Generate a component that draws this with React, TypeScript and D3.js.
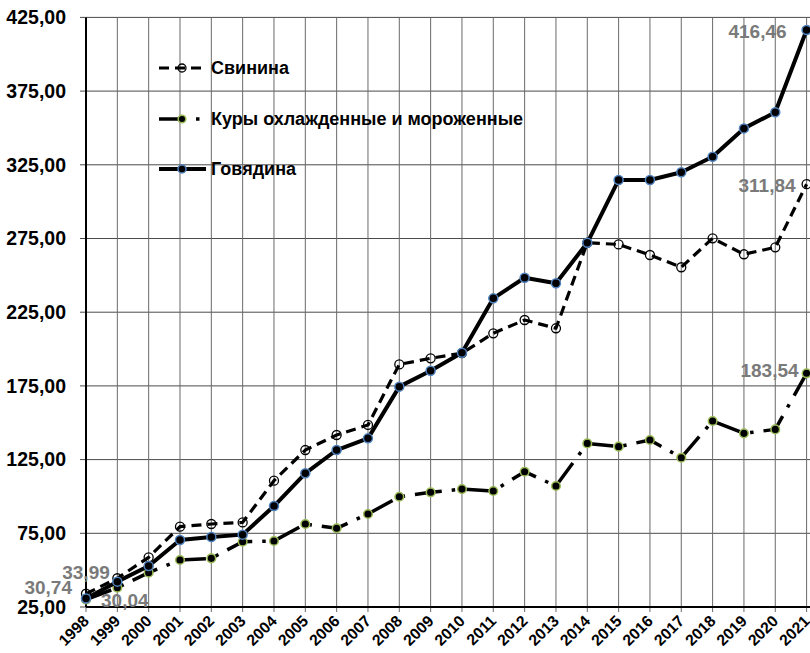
import React from "react";
import * as d3 from "d3";

const years = ["1998","1999","2000","2001","2002","2003","2004","2005","2006","2007","2008","2009","2010","2011","2012","2013","2014","2015","2016","2017","2018","2019","2020","2021"];
const pork = [33.99,44.5,58.7,79.5,81.3,82.4,110.7,131.5,141.7,148.5,189.6,193.7,197.2,210.7,219.7,214.1,272.1,271.0,263.8,255.5,275.1,264.3,269.0,311.84];
const chicken = [30.04,38.1,48.3,56.9,58.0,69.3,69.8,81.3,78.4,88.1,99.8,102.8,105.0,103.7,116.8,107.1,136.0,133.8,138.3,126.3,151.2,142.8,145.5,183.54];
const beef = [30.74,42.2,52.8,70.5,72.5,74.1,93.5,115.7,131.5,139.4,174.5,185.3,197.5,234.4,248.4,244.6,272.1,314.7,314.7,319.9,330.5,349.7,360.6,416.46];
const yTicks = [25,75,125,175,225,275,325,375,425];
const seriesNames = ["Свинина","Куры охлажденные и мороженные","Говядина"];

const W = 810, H = 653;
const FONT = "'Liberation Sans', Arial, sans-serif";
const fmt = (v: number) => d3.format(".2f")(v).replace(".", ",");

export default function App() {
  const x = d3.scalePoint<string>().domain(years).range([86, 806.6]);
  const y = d3.scaleLinear().domain([25, 425]).range([607, 17.4]);
  const line = d3.line<number>().x((_, i) => x(years[i])!).y(d => y(d));

  const styles = [
    { data: pork, width: 3.2, dash: "10,6", mFill: "none", mStroke: "#000", mW: 1.3, r: 4.5 },
    { data: chicken, width: 3.5, dash: "27,10,3.5,10", mFill: "#000", mStroke: "#9bbb59", mW: 1.5, r: 4.3 },
    { data: beef, width: 4, dash: null as string | null, mFill: "#000", mStroke: "#4f81bd", mW: 1.5, r: 4.5 },
  ];

  // label offsets relative to points: [seriesIdx, pointIdx, dx, dy, anchor]
  const labels: [number, number, number, number, string][] = [
    [2, 23, -20, 8, "end"],
    [0, 23, -11, 8, "end"],
    [1, 23, -8, 4, "end"],
    [0, 0, 0, -15, "middle"],
    [2, 0, -14, -5, "end"],
    [1, 0, 15, 7, "start"],
  ];

  const legendY = [68, 119, 169];

  return (
    <svg width={W} height={H} style={{ position: "absolute", left: 0, top: 0, background: "#fff" }}>
      <rect x={0} y={0} width={W} height={H} fill="#fff" />
      {yTicks.map(t => (
        <line key={"h" + t} x1={80} x2={W} y1={y(t)} y2={y(t)} stroke="#4a4a4a" strokeWidth={1} />
      ))}
      {years.map(yr => (
        <line key={"v" + yr} x1={x(yr)} x2={x(yr)} y1={y(425)} y2={612} stroke="#6a6a6a" strokeWidth={1} />
      ))}
      <line x1={86} x2={86} y1={y(425)} y2={607} stroke="#000" strokeWidth={2} />
      <line x1={86} x2={W} y1={607} y2={607} stroke="#000" strokeWidth={2} />
      {yTicks.map(t => (
        <text key={"yl" + t} x={66} y={y(t)} dy="0.35em" textAnchor="end" fontFamily={FONT} fontWeight="bold" fontSize={19.5} fill="#000">{fmt(t)}</text>
      ))}
      {years.map(yr => (
        <text key={"xl" + yr} transform={`translate(${x(yr)! + 4},${622}) rotate(-45)`} textAnchor="end" fontFamily={FONT} fontWeight="bold" fontSize={15.8} fill="#000">{yr}</text>
      ))}
      {styles.map((s, si) => (
        <g key={"s" + si}>
          <path d={line(s.data)!} fill="none" stroke="#000" strokeWidth={s.width} strokeDasharray={s.dash ?? undefined} strokeLinejoin="round" />
          {s.data.map((v, i) => (
            <circle key={i} cx={x(years[i])} cy={y(v)} r={s.r} fill={s.mFill} stroke={s.mStroke} strokeWidth={s.mW} />
          ))}
        </g>
      ))}
      {labels.map(([si, pi, dx, dy, anchor], k) => {
        const v = styles[si].data[pi];
        return (
          <text key={"dl" + k} x={x(years[pi])! + dx} y={y(v) + dy} textAnchor={anchor as any} fontFamily={FONT} fontWeight="bold" fontSize={19} fill="#7a7a7a">{fmt(v)}</text>
        );
      })}
      {styles.map((s, si) => (
        <g key={"lg" + si}>
          <path d={`M159,${legendY[si]}H206`} fill="none" stroke="#000" strokeWidth={s.width} strokeDasharray={s.dash ?? undefined} />
          <circle cx={182} cy={legendY[si]} r={s.r - 0.5} fill={s.mFill} stroke={s.mStroke} strokeWidth={s.mW} />
          <text x={211} y={legendY[si]} dy="0.35em" fontFamily={FONT} fontWeight="bold" fontSize={18} fill="#000">{seriesNames[si]}</text>
        </g>
      ))}
    </svg>
  );
}
